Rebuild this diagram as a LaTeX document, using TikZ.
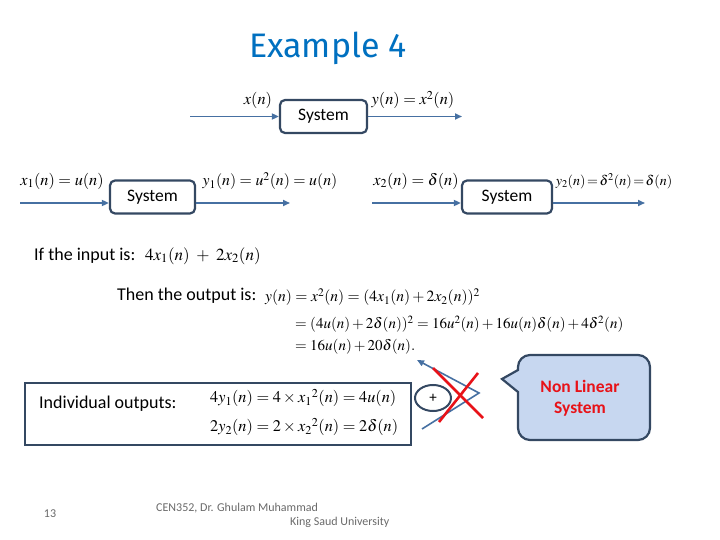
\documentclass[tikz,border=0pt]{standalone}
\usepackage{mathptmx}
\usepackage[no-math]{fontspec}
\setmainfont{Carlito}
\newfontfamily\titlefont{Fira Sans}
\usetikzlibrary{positioning}
\usetikzlibrary{arrows.meta}
\usetikzlibrary{shapes.geometric}

\definecolor{boxline}{RGB}{52,72,98}
\definecolor{sigblue}{RGB}{70,112,162}
\definecolor{titleblue}{RGB}{0,112,192}
\definecolor{bubblefill}{RGB}{199,215,240}
\definecolor{crossred}{RGB}{232,18,24}
\definecolor{footgray}{RGB}{105,105,105}

\begin{document}
\begin{tikzpicture}[x=1pt,y=-1pt,
sysbox/.style={
	% The shape:
	rectangle,rounded corners=5pt,
	minimum width=87pt,minimum height=33pt,
	% The border:
	line width=2.2pt,draw=boxline,
	% Font
	font=\fontsize{17.5}{20}\selectfont},
sigline/.style={
	line width=1.6pt,draw=sigblue,
	-{Triangle[length=7pt,width=6pt]}},
lbl/.style={inner sep=0pt,font=\fontsize{16.3}{19}\selectfont},
txt/.style={inner sep=0pt,anchor=west,font=\fontsize{18}{21}\selectfont},
foot/.style={inner sep=0pt,text=footgray,font=\fontsize{12}{14}\selectfont},
]
\useasboundingbox (0,0) rectangle (720,540);

% Title
\node (title) at (328,48) {\titlefont\fontsize{34}{38}\selectfont\color{titleblue}Example 4};

% The three systems
\node (sysA) [sysbox] at (323.5,116.5) {System};
\node (sysB) [sysbox,minimum width=85pt] at (152.5,197) {System};
\node (sysC) [sysbox,minimum width=90pt] at (507,197) {System};

\coordinate (inA) at (190,116.5);
\coordinate (outA) at (462,116.5);
\draw[sigline] (inA) -- (sysA.west);
\draw[sigline] (sysA.east) -- (outA);
\node (xA) [lbl] at (258,100) {$x(n)$};
\node (yA) [lbl] at (413,100) {$y(n)=x^2(n)$};

\coordinate (inB) at (20,203);
\coordinate (outB) at (290,203);
\draw[sigline] (inB) -- (inB -| sysB.west);
\draw[sigline] (outB -| sysB.east) -- (outB);
\node (xB) [lbl] at (62,181) {$x_1(n)=u(n)$};
\node (yB) [lbl,font=\fontsize{15.8}{19}\selectfont] at (270,181) {$y_1(n)=u^2(n)=u(n)$};

\coordinate (inC) at (372,203);
\coordinate (outC) at (645,203);
\draw[sigline] (inC) -- (inC -| sysC.west);
\draw[sigline] (outC -| sysC.east) -- (outC);
\node (xC) [lbl] at (416,181) {$x_2(n)=\delta(n)$};
\node (yC) [lbl,font=\fontsize{14}{17}\selectfont] at (614,181) {\thickmuskip=2mu$y_2(n)=\delta^2(n)=\delta(n)$};

% Input and output
\node (ifin) [txt] at (34,256) {If the input is:};
\node (ifeq) [lbl,anchor=west,font=\fontsize{17}{20}\selectfont] at (145,256) {\medmuskip=7mu$4x_1(n)+2x_2(n)$};
\node (then) [txt] at (117,296) {Then the output is:};
\node (eq1) [lbl,anchor=west,font=\fontsize{15.6}{19}\selectfont] at (265,297) {$y(n)=x^2(n)=(4x_1(n)+2x_2(n))^2$};
\node (eq2) [lbl,anchor=west,font=\fontsize{15}{18}\selectfont] at (295,324) {$=(4u(n)+2\delta(n))^2=16u^2(n)+16u(n)\delta(n)+4\delta^2(n)$};
\node (eq3) [lbl,anchor=west,font=\fontsize{15}{18}\selectfont] at (295,347) {$=16u(n)+20\delta(n).$};

% Individual outputs
\node (indiv) [rectangle,line width=2.2pt,draw=boxline,minimum width=386pt,minimum height=62pt] at (218,414) {};
\node (indtxt) [txt] at (39,404) {Individual outputs:};
\node (ind1) [lbl,anchor=west] at (210,398) {$4y_1(n)=4\times x_1{}^2(n)=4u(n)$};
\node (ind2) [lbl,anchor=west] at (210,427) {$2y_2(n)=2\times x_2{}^2(n)=2\delta(n)$};

% Sum and crossed arrow
\node (sum) [ellipse,line width=2pt,draw=boxline,minimum width=36pt,minimum height=26pt,inner sep=0pt,font=\fontsize{15}{17}\selectfont] at (433,398) {+};
\coordinate (fb0) at (422,429);
\coordinate (fbtip) at (479,393);
\coordinate (fbend) at (417,360);
\draw[sigline] (fb0) -- (fbtip) -- (fbend);
\draw[crossred,line width=2.6pt] (433,368) -- (483,418);
\draw[crossred,line width=2.6pt] (478,373) -- (439,422);

% Callout
\draw[line width=2.2pt,draw=boxline,fill=bubblefill] (502,379) -- (518,392)
	{[rounded corners=12pt] -- (518,440) -- (650,440) -- (650,355) -- (518,355)} -- (518,370) -- cycle;
\node (nonlin) [align=center,text=crossred,font=\bfseries\fontsize{17.5}{21}\selectfont] at (580,398) {Non Linear\\ System};

% Footer
\node (pagenum) [foot] at (50,514) {13};
\node (course) [foot,anchor=west] at (156,508) {CEN352, Dr. Ghulam Muhammad};
\node (univ) [foot,anchor=west] at (290,522) {King Saud University};
\end{tikzpicture}
\end{document}
